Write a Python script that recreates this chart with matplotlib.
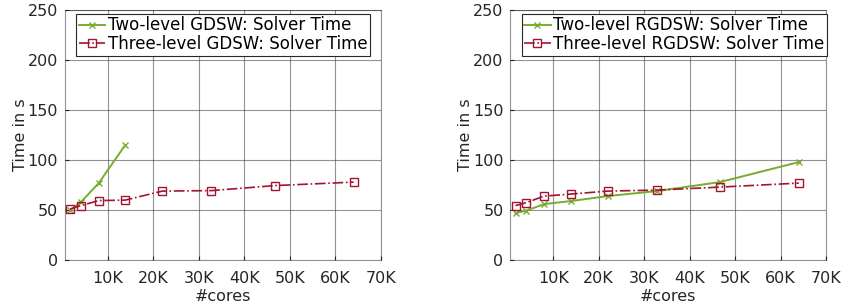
import numpy as np
from matplotlib import pyplot as plt

cores = [1728, 4096, 8000, 13824, 21952, 32768, 46656, 64000]

gdsw_two = [50, 58, 77, 115]
gdsw_three = [51, 54.5, 59.5, 60, 69, 69.5, 74.5, 78]

rgdsw_two = [47, 49.5, 56, 59, 64, 69, 78, 98]
rgdsw_three = [54.5, 57.5, 64, 66, 69, 70, 73, 77]

green = "#77AC30"
red = "#A2142F"

plt.rcParams['font.family'] = 'DejaVu Sans'
plt.rcParams['font.size'] = 11.5

fig = plt.figure(figsize=(8.41, 3.06), dpi=100)
ax1 = fig.add_axes([0.0773, 0.150, 0.3757, 0.817])
ax2 = fig.add_axes([0.607, 0.150, 0.3752, 0.817])

panels = [
    (ax1, gdsw_two, gdsw_three, "GDSW"),
    (ax2, rgdsw_two, rgdsw_three, "RGDSW"),
]

for ax, two, three, name in panels:
    ax.plot(cores[:len(two)], two, color=green, linewidth=1.4, linestyle="-",
            marker="x", markersize=5, label="Two-level " + name + ": Solver Time")
    ax.plot(cores[:len(three)], three, color=red, linewidth=1.2, linestyle="-.",
            marker="s", markersize=6, markerfacecolor="none", markeredgewidth=1.0,
            label="Three-level " + name + ": Solver Time")
    ax.set_xlim(600, 70000)
    ax.set_ylim(0, 250)
    ax.set_xticks([10000, 20000, 30000, 40000, 50000, 60000, 70000])
    ax.set_xticklabels(["10K", "20K", "30K", "40K", "50K", "60K", "70K"])
    ax.set_yticks([0, 50, 100, 150, 200, 250])
    ax.grid(True, color="#262626", alpha=0.5, linewidth=0.8)
    ax.set_axisbelow(True)
    ax.tick_params(colors="#262626", direction="in", length=3, width=0.8)
    ax.tick_params(axis="x", pad=8)
    ax.tick_params(axis="y", pad=5)
    for s in ax.spines.values():
        s.set_color("#262626")
        s.set_alpha(0.5)
        s.set_linewidth(0.8)
    ax.set_xlabel("#cores", color="#262626", labelpad=2)
    ax.set_ylabel("Time in s", color="#262626", labelpad=0)
    leg = ax.legend(loc="upper left", bbox_to_anchor=(0.035, 0.985), fancybox=False,
                    framealpha=1, edgecolor="#262626", borderpad=0.15,
                    handlelength=1.6, handletextpad=0.15, labelspacing=0.05,
                    borderaxespad=0.0, fontsize=12)
    leg.get_frame().set_linewidth(0.8)

fig.savefig("out.png", dpi=100)
